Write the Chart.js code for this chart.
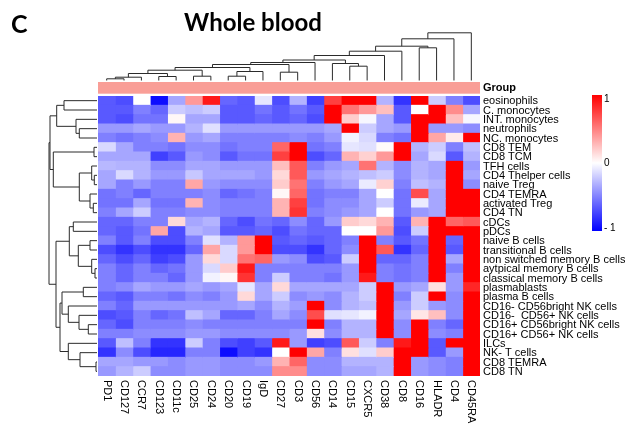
<!DOCTYPE html>
<html>
<head>
<meta charset="utf-8">
<script src="https://cdn.jsdelivr.net/npm/chart.js@4.4.1/dist/chart.umd.min.js"></script>
<style>
  html, body { margin: 0; padding: 0; background: #fff; }
  #wrap { width: 625px; height: 428px; }
</style>
</head>
<body>
<div id="wrap"><canvas id="heat" width="625" height="428"></canvas></div>
<script>
const cellTypes = [
    "eosinophils", "C. monocytes", "INT. monocytes", "neutrophils", "NC. monocytes",
    "CD8 TEM", "CD8 TCM", "TFH cells", "CD4 Thelper cells", "naive Treg",
    "CD4 TEMRA", "activated Treg", "CD4 TN", "cDCs", "pDCs",
    "naive B cells", "transitional B cells", "non switched memory B cells",
    "aytpical memory B cells", "classical memory B cells", "plasmablasts",
    "plasma B cells", "CD16- CD56bright NK cells", "CD16-  CD56+ NK cells",
    "CD16+ CD56bright NK cells", "CD16+ CD56+ NK cells", "ILCs", "NK- T cells",
    "CD8 TEMRA", "CD8 TN"
];

const markers = [
    "PD1", "CD127", "CCR7", "CD123", "CD11c", "CD25", "CD24", "CD20", "CD19", "IgD",
    "CD27", "CD3", "CD56", "CD14", "CD15", "CXCR5", "CD38", "CD8", "CD16", "HLADR",
    "CD4", "CD45RA"
];

// scaled expression, one row per cell type, one column per marker
const scores = [
    [-0.65,-0.7,0,-0.95,-0.35,0.4,0.9,-0.6,-0.65,-0.1,-0.7,-0.3,-0.75,0.75,1,1,-0.3,-0.8,1,-0.2,-0.5,-0.7],
    [-0.65,-0.65,-0.5,-0.6,-0.2,-0.25,-0.2,-0.65,-0.65,-0.55,-0.65,-0.55,-0.65,1,0.55,0.4,0.25,-0.65,0,1,0.45,-0.35],
    [-0.65,-0.7,-0.55,-0.55,0.03,-0.35,-0.35,-0.65,-0.65,-0.6,-0.65,-0.6,-0.7,1,0.2,-0.03,-0.35,-0.65,1,1,0.25,-0.03],
    [-0.4,-0.4,-0.35,-0.4,-0.4,-0.3,-0.12,-0.4,-0.4,-0.4,-0.4,-0.4,-0.4,-0.35,1,-0.2,-0.35,-0.4,1,-0.4,-0.4,-0.45],
    [-0.5,-0.55,-0.5,-0.45,0.3,-0.4,-0.35,-0.5,-0.5,-0.5,-0.5,-0.45,-0.5,-0.4,-0.05,-0.15,-0.5,-0.55,1,0.35,0.08,1],
    [-0.15,-0.35,-0.5,-0.5,-0.55,-0.45,-0.45,-0.55,-0.5,-0.5,0.6,1,-0.55,-0.5,-0.1,-0.12,0.02,1,-0.3,-0.2,-0.5,-0.25],
    [-0.35,-0.35,-0.35,-0.75,-0.65,-0.4,-0.45,-0.65,-0.55,-0.55,0.75,1,-0.7,-0.6,0.3,0.18,0.4,1,-0.35,-0.15,-0.65,-0.3],
    [-0.28,-0.3,-0.3,-0.45,-0.45,-0.35,-0.35,-0.4,-0.4,-0.4,0.25,0.65,-0.5,-0.4,-0.35,0.55,-0.3,-0.45,-0.3,-0.35,1,-0.4],
    [-0.35,-0.15,-0.3,-0.4,-0.4,-0.22,-0.35,-0.35,-0.35,-0.4,0.15,0.65,-0.4,-0.35,-0.3,-0.25,-0.2,-0.45,-0.3,-0.35,1,-0.35],
    [-0.35,-0.5,-0.4,-0.5,-0.5,0.35,-0.4,-0.45,-0.45,-0.45,0.2,0.55,-0.5,-0.4,-0.35,-0.08,0.18,-0.5,-0.25,-0.3,1,-0.45],
    [-0.55,-0.5,-0.6,-0.5,-0.5,-0.5,-0.45,-0.6,-0.55,-0.5,0.03,0.6,-0.55,-0.5,-0.5,-0.35,0,-0.55,0.7,-0.35,1,1],
    [-0.55,-0.55,-0.35,-0.55,-0.55,0.3,-0.45,-0.5,-0.5,-0.5,0.3,0.75,-0.55,-0.45,-0.45,-0.35,-0.2,-0.55,-0.08,-0.35,1,1],
    [-0.5,-0.35,-0.2,-0.5,-0.5,-0.45,-0.45,-0.5,-0.5,-0.5,0.3,0.8,-0.5,-0.45,-0.4,-0.35,0,-0.55,-0.4,-0.35,1,1],
    [-0.6,-0.6,-0.5,-0.5,0.15,-0.35,-0.3,-0.6,-0.7,-0.55,-0.6,-0.45,-0.6,-0.4,0.2,0.15,0.3,-0.65,0.3,1,0.6,0.65],
    [-0.6,-0.65,-0.55,0.35,-0.7,-0.3,-0.35,-0.65,-0.65,-0.6,-0.7,-0.55,-0.6,-0.6,0,0,0.4,-0.7,-0.2,1,1,1],
    [-0.5,-0.65,-0.5,-0.7,-0.7,-0.5,-0.12,-0.3,0.4,1,-0.65,-0.6,-0.65,-0.6,-0.5,1,-0.5,-0.65,-0.55,1,-0.6,1],
    [-0.7,-0.8,-0.7,-0.8,-0.8,-0.6,0.35,-0.15,0.4,1,-0.7,-0.7,-0.8,-0.6,-0.45,1,0.65,-0.8,-0.6,1,-0.65,1],
    [-0.6,-0.7,-0.6,-0.75,-0.7,-0.4,0.15,-0.15,0.55,0.6,-0.4,-0.45,-0.7,-0.65,-0.2,1,-0.6,-0.6,-0.5,1,-0.35,1],
    [-0.5,-0.6,-0.5,-0.6,-0.55,-0.4,-0.15,0.2,0.9,-0.5,-0.5,-0.5,-0.5,-0.5,-0.4,1,-0.5,-0.55,-0.5,1,-0.5,1],
    [-0.5,-0.6,-0.5,-0.5,-0.6,-0.4,-0.05,0.03,0.8,-0.5,-0.2,-0.5,-0.5,-0.55,-0.4,0.9,-0.5,-0.55,-0.5,1,-0.4,1],
    [-0.5,-0.45,-0.35,-0.4,-0.4,-0.35,-0.4,-0.35,-0.1,-0.35,0.15,-0.35,-0.35,-0.35,-0.35,-0.2,1,-0.4,-0.35,0.12,-0.4,0.85],
    [-0.6,-0.65,-0.5,-0.5,-0.55,-0.45,-0.5,-0.4,0.15,-0.35,-0.2,-0.45,-0.4,-0.45,-0.3,-0.2,1,-0.5,-0.2,1,-0.45,1],
    [-0.5,-0.6,-0.4,-0.4,-0.4,-0.4,-0.4,-0.4,-0.35,-0.45,-0.3,-0.38,1,-0.45,-0.3,-0.25,1,-0.4,-0.2,-0.4,-0.45,1],
    [-0.7,-0.65,-0.5,-0.6,-0.55,-0.25,-0.35,-0.6,-0.6,-0.5,-0.35,-0.45,0.7,-0.12,-0.1,-0.05,1,-0.35,0.1,0.25,-0.45,1],
    [-0.6,-0.7,-0.5,-0.5,-0.5,-0.45,-0.5,-0.5,-0.5,-0.5,-0.5,-0.5,1,-0.5,-0.3,-0.3,1,-0.45,1,-0.5,-0.6,1],
    [-0.5,-0.5,-0.45,-0.45,-0.45,-0.4,-0.4,-0.45,-0.45,-0.45,-0.45,-0.4,0.12,-0.45,-0.3,-0.3,1,-0.45,1,-0.45,-0.5,1],
    [-0.65,-0.25,-0.5,-0.8,-0.8,-0.2,-0.5,-0.7,-0.75,-0.65,0.9,-0.4,-0.75,-0.7,0.65,-0.2,-0.5,0.9,1,-0.65,1,1],
    [-0.8,-0.45,-0.7,-0.85,-0.85,-0.5,-0.5,-0.95,-0.75,-0.8,0,1,0.35,-0.5,0.12,-0.12,0.2,1,1,-0.65,-0.4,1],
    [-0.35,-0.35,-0.4,-0.4,-0.45,-0.4,-0.4,-0.45,-0.45,-0.4,0.3,0.6,-0.45,-0.45,-0.3,-0.3,-0.3,1,-0.4,-0.45,-0.5,1],
    [-0.4,-0.3,-0.2,-0.45,-0.45,-0.4,-0.4,-0.45,-0.45,-0.45,0.45,0.45,-0.45,-0.45,-0.35,-0.35,-0.3,1,-0.4,-0.45,-0.5,1]
];

// dendrograms, hclust style: negative = leaf (1-based), positive = earlier merge
const rowMerge = [
    [-1, -2], [-4, -5], [-3, 2], [1, 3], [-6, -7], [-9, -10], [-8, 6], [-12, -13],
    [-11, 8], [7, 9], [5, 10], [4, 11], [-14, -15], [-16, -17], [-19, -20], [-18, 15],
    [14, 16], [13, 17], [-21, -22], [-25, -26], [-24, 20], [-23, 21], [19, 22],
    [-29, -30], [-28, 24], [-27, 25], [23, 26], [18, 27], [12, 28]
];
const rowHeight = [
    33, 17.7, 21, 40.3, 3, 2.7, 5.3, 3.7, 7, 17.7, 43.7, 47, 23.7, 7, 2, 5.3,
    18.7, 27.7, 13.7, 8.7, 18, 28.7, 35, 1, 17, 28.7, 37, 41, 48
];

const colMerge = [
    [-1, -2], [1, -3], [-4, -5], [2, 3], [-6, -7], [4, 5], [-8, -9], [7, -10], [6, 8],
    [-11, -12], [9, 10], [11, -13], [-15, -16], [-14, 13], [12, 14], [15, -17],
    [16, -18], [-19, -20], [17, 18], [19, -21], [20, -22]
];
const colHeight = [
    1.7, 3.3, 4, 7, 4.3, 10.3, 4.3, 9, 13,
    8.3, 16, 18, 14.3, 17, 20.5, 25, 29.3, 32.7, 34.3, 41.7, 47.7
];

const legendTicks = [1, 0, -1];
const legendText = ["1", "0", "- 1"];

function heatColor(v) {
    v = Math.max(-1, Math.min(1, v));
    const c = Math.round(255 * (1 - Math.abs(v)));
    return v < 0 ? `rgb(${c},${c},255)` : `rgb(255,${c},${c})`;
}

/* one stacked dataset per marker, each cell one unit wide */
const datasets = markers.map((m, j) => ({
    label: m,
    data: cellTypes.map(() => 1),
    backgroundColor: cellTypes.map((_, i) => heatColor(scores[i][j])),
    borderWidth: 0,
    barPercentage: 1,
    categoryPercentage: 1,
    inflateAmount: 0.5
}));

/* walk an hclust merge table and draw the elbows */
function drawTree(ctx, merge, height, leafPos, place) {
    const pos = [], hgt = [];
    const info = n => n < 0 ? [leafPos(-n - 1), 0] : [pos[n - 1], hgt[n - 1]];
    merge.forEach((m, k) => {
        const [pa, ha] = info(m[0]);
        const [pb, hb] = info(m[1]);
        const h = height[k];
        pos[k] = (pa + pb) / 2;
        hgt[k] = h;
        ctx.beginPath();
        let p = place(pa, ha); ctx.moveTo(p[0], p[1]);
        p = place(pa, h); ctx.lineTo(p[0], p[1]);
        p = place(pb, h); ctx.lineTo(p[0], p[1]);
        p = place(pb, hb); ctx.lineTo(p[0], p[1]);
        ctx.stroke();
    });
}

const labelFont = "Arial, 'Liberation Sans', sans-serif";

const decorations = {
    id: "decorations",
    afterDraw(chart) {
        const ctx = chart.ctx;
        const area = chart.chartArea;
        const xs = chart.scales.x;
        const ys = chart.scales.y;
        const colX = j => xs.getPixelForValue(j + 0.5);
        const rowY = i => ys.getPixelForValue(i);
        ctx.save();

        // panel letter and title
        ctx.fillStyle = "#000";
        ctx.textBaseline = "alphabetic";
        ctx.font = "bold 25px Lato";
        ctx.textAlign = "left";
        ctx.fillText("C", 11, 33);
        ctx.font = "bold 24px Lato";
        ctx.textAlign = "center";
        ctx.fillText("Whole blood", 253, 31);

        // group annotation strip
        const gTop = area.top - 14, gBot = area.top - 2.3;
        ctx.fillStyle = "#F99E97";
        ctx.fillRect(xs.getPixelForValue(0), gTop, xs.getPixelForValue(markers.length) - xs.getPixelForValue(0), gBot - gTop);
        ctx.fillStyle = "#000";
        ctx.font = "bold 11px " + labelFont;
        ctx.textAlign = "left";
        ctx.textBaseline = "middle";
        ctx.fillText("Group", area.right + 3, (gTop + gBot) / 2);

        // row labels
        ctx.font = "11px " + labelFont;
        cellTypes.forEach((t, i) => ctx.fillText(t, area.right + 3, rowY(i) + 0.5));

        // column labels, read top to bottom
        markers.forEach((m, j) => {
            ctx.save();
            ctx.translate(colX(j), area.bottom + 4);
            ctx.rotate(Math.PI / 2);
            ctx.textAlign = "left";
            ctx.textBaseline = "middle";
            ctx.fillText(m, 0, 0);
            ctx.restore();
        });

        // dendrograms
        ctx.strokeStyle = "#2b2b2b";
        ctx.lineWidth = 1;
        drawTree(ctx, rowMerge, rowHeight, rowY, (p, h) => [area.left - 1 - h, p]);
        drawTree(ctx, colMerge, colHeight, colX, (p, h) => [p, gTop - 1.5 - h]);

        // colour key
        const kx = 592, kw = 10, kTop = 95, kBot = 231;
        const grad = ctx.createLinearGradient(0, kTop, 0, kBot);
        grad.addColorStop(0, heatColor(1));
        grad.addColorStop(0.5, heatColor(0));
        grad.addColorStop(1, heatColor(-1));
        ctx.fillStyle = grad;
        ctx.fillRect(kx, kTop, kw, kBot - kTop);
        ctx.fillStyle = "#000";
        ctx.font = "10px " + labelFont;
        ctx.textAlign = "left";
        legendTicks.forEach((v, k) => {
            const y = kBot - (v + 1) / 2 * (kBot - kTop);
            ctx.fillText(legendText[k], kx + kw + 2, Math.min(Math.max(y, kTop + 4), kBot - 3));
        });
        ctx.restore();
    }
};

new Chart(document.getElementById("heat"), {
    type: "bar",
    data: { labels: cellTypes, datasets: datasets },
    options: {
        indexAxis: "y",
        responsive: false,
        animation: false,
        devicePixelRatio: 1,
        layout: { padding: { left: 98, right: 145, top: 96, bottom: 52 } },
        plugins: { legend: { display: false }, tooltip: { enabled: false }, title: { display: false } },
        scales: {
            x: { stacked: true, min: 0, max: markers.length, display: false },
            y: { stacked: true, display: false }
        }
    },
    plugins: [decorations]
});
</script>
</body>
</html>
